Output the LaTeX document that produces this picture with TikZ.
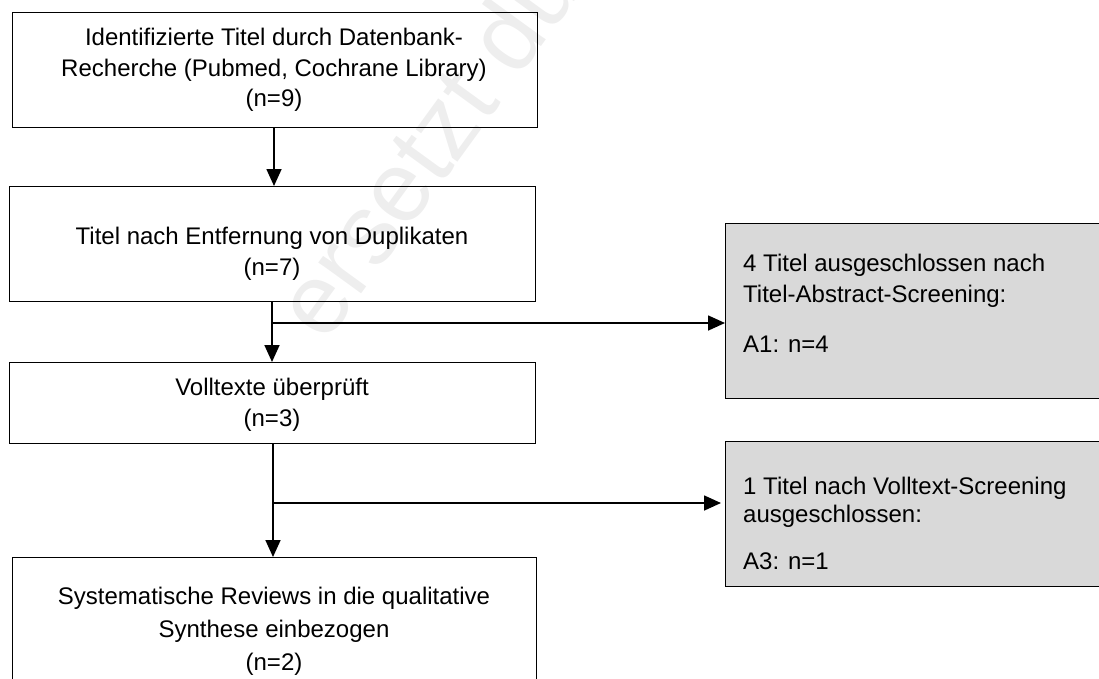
\documentclass[tikz,border=0pt]{standalone}
\usepackage{fontspec}
\setmainfont{Liberation Sans}
\usetikzlibrary{arrows.meta}
\definecolor{boxgray}{RGB}{217,217,217}
\definecolor{wmgray}{RGB}{238,238,238}
\tikzset{
  whitebox/.style={draw=black, line width=1.3pt, inner sep=0pt, anchor=north west},
  graybox/.style={draw=black, fill=boxgray, line width=1.3pt, inner sep=0pt, anchor=north west},
  ctext/.style={inner sep=0pt, align=center, font=\fontsize{24}{30.5}\selectfont},
  ltext/.style={inner sep=0pt, align=left, anchor=north west, font=\fontsize{24}{31}\selectfont},
  conn/.style={line width=1.7pt, -{Triangle[width=15pt,length=17pt]}},
  wmark/.style={text=wmgray, font=\fontsize{100}{100}\selectfont, inner sep=0pt}
}
\begin{document}
\begin{tikzpicture}[x=1pt,y=-1pt]
\useasboundingbox (0,0) rectangle (1099,678);
\clip (0,0) rectangle (1099,678);
% watermark
\node[wmark, rotate=54, anchor=base west] (wm) at (325,345) {ersetzt durch};
% main boxes
\node[whitebox, minimum width=525pt, minimum height=115pt] (b1) at (12,12) {};
\node[whitebox, minimum width=526pt, minimum height=115pt] (b2) at (9,186) {};
\node[whitebox, minimum width=526pt, minimum height=81pt] (b3) at (9,362) {};
\node[whitebox, minimum width=524pt, minimum height=160pt] (b4) at (12,557) {};
% side boxes
\node[graybox, minimum width=390pt, minimum height=175pt] (g1) at (725,223) {};
\node[graybox, minimum width=390pt, minimum height=145pt] (g2) at (725,441) {};
% texts
\node[ctext] (t1) at (274,70) {Identifizierte Titel durch Datenbank-\\Recherche (Pubmed, Cochrane Library)\\(n=9)};
\node[ctext] (t2) at (272,254) {Titel nach Entfernung von Duplikaten\\(n=7)};
\node[ctext] (t3) at (272,405) {Volltexte überprüft\\(n=3)};
\node[ctext, font=\fontsize{24}{33}\selectfont] (t4) at (274,631) {Systematische Reviews in die qualitative\\Synthese einbezogen\\(n=2)};
\node[ltext] (tg1) at (743,254) {4 Titel ausgeschlossen nach\\Titel-Abstract-Screening:\\[19pt]A1: n=4};
\node[ltext, font=\fontsize{24}{28}\selectfont] (tg2) at (743,477) {1 Titel nach Volltext-Screening\\ausgeschlossen:\\[19pt]A3: n=1};
% connectors
\coordinate (x1) at (274,0);
\coordinate (j1) at (272,323);
\coordinate (j2) at (273,503);
\draw[conn] (b1.south -| x1) -- (b2.north -| x1);
\draw[conn] (b2.south -| j1) -- (b3.north -| j1);
\draw[conn] (j1) -- (g1.west |- j1);
\draw[conn] (b3.south -| j2) -- (b4.north -| j2);
\draw[conn] (j2) -- ([xshift=-4pt]g2.west |- j2);
\end{tikzpicture}
\end{document}
